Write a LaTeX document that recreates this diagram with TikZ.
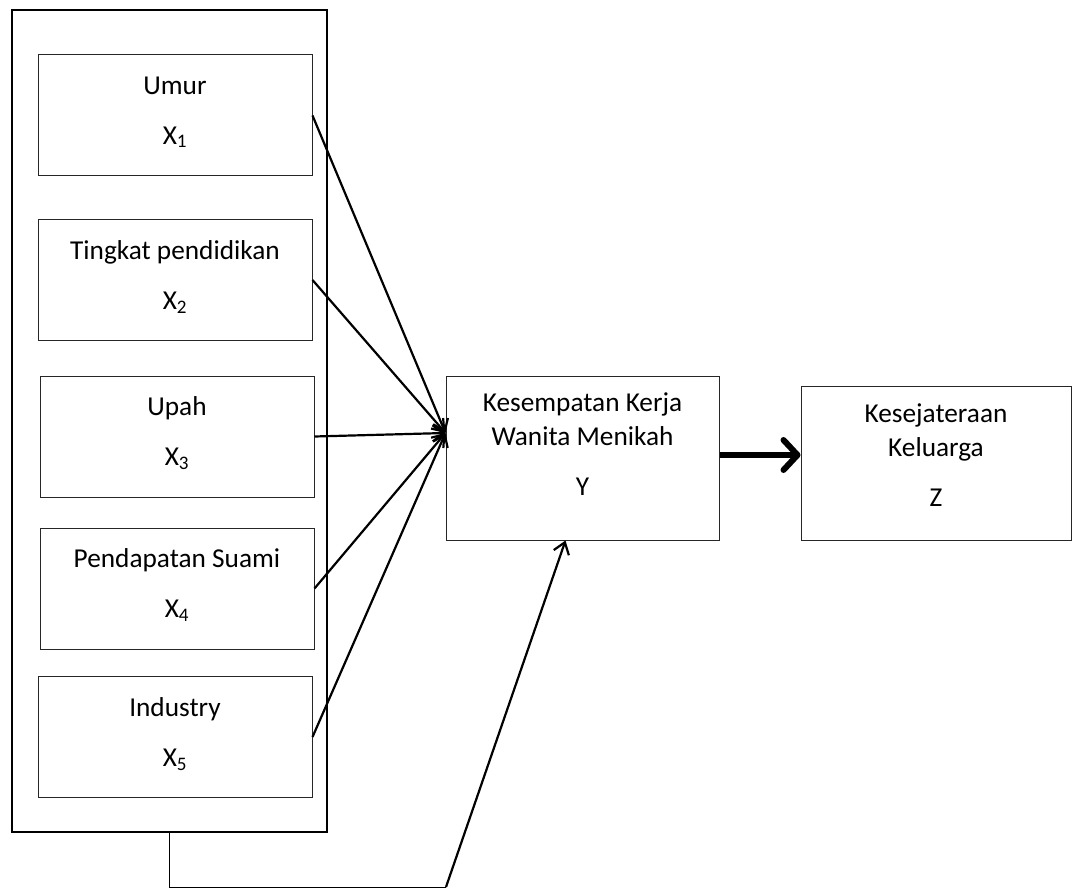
\documentclass[tikz,border=0pt]{standalone}
\usepackage{fontspec}
\setmainfont{Carlito}
\usetikzlibrary{arrows.meta,positioning,calc}

\begin{document}
\begin{tikzpicture}[x=1pt, y=-1pt,
    box/.style={draw=black!85, line width=1pt, align=center, inner sep=0pt,
        text depth=10pt, font=\fontsize{27.3}{34}\selectfont},
    grp/.style={draw=black, line width=2pt},
    link/.style={-{Straight Barb[length=11pt,width=16pt]}, line width=2.2pt},
    bold/.style={-{Straight Barb[length=14pt,width=30pt,round]}, line width=6pt}
]
    \useasboundingbox (0,0) rectangle (1072,888);

    % Group frame round the independent variables
    \node[grp, minimum width=315pt, minimum height=822pt] (grp) at (169.5,421) {};

    % Independent variables X1..X5
    \foreach \i/\cx/\cy/\txt in {1/175/115.5/Umur, 2/175/280/Tingkat pendidikan,
        3/177/436.5/Upah, 4/177/588.5/Pendapatan Suami, 5/175/737/Industry} {
        \node[box, minimum width=274pt, minimum height=121pt] (x\i) at (\cx,\cy)
            {\txt\\[16pt]X\textsubscript{\i}};
    }

    % Dependent variables
    \node[box, text depth=28pt, minimum width=273pt, minimum height=164pt] (yb) at (582.5,458)
        {Kesempatan Kerja\\Wanita Menikah\\[16pt]Y};
    \node[box, text depth=16pt, minimum width=270pt, minimum height=154pt] (zb) at (936,463)
        {Kesejateraan\\Keluarga\\[16pt]Z};

    % Arrows into Y
    \coordinate (yin) at ([yshift=25pt]yb.west);
    \foreach \i in {1,...,5} {
        \draw[link] (x\i.east) -- (yin);
    }

    % Joint effect from the frame
    \coordinate (turn) at (446,887);
    \draw[line width=1pt] (grp.south) |- (turn);
    \draw[link] (turn) -- ([xshift=-17pt]yb.south);

    % Y -> Z
    \draw[bold] ([yshift=3pt]yb.east) -- ([yshift=3pt]yb.east -| zb.west);
\end{tikzpicture}
\end{document}
